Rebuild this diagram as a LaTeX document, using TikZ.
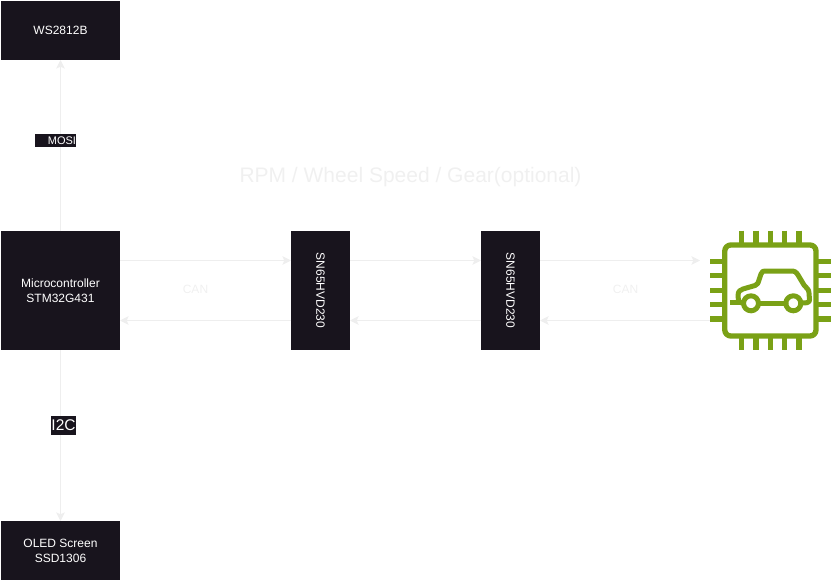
\documentclass[tikz,border=0pt]{standalone}
\usepackage{fontspec}
\setmainfont{Liberation Sans}
\usetikzlibrary{arrows.meta,positioning}
\definecolor{boxdark}{HTML}{18141D}
\definecolor{linelight}{HTML}{EEEEEE}
\definecolor{labellight}{HTML}{F0F0F0}
\definecolor{chipgreen}{HTML}{7AA116}
\tikzset{
  x=0.75pt,y=-0.75pt,
  darkbox/.style={fill=boxdark,draw=none,text=white,font=\fontsize{9}{11.25}\selectfont,align=center,inner sep=0pt,outer sep=0pt,minimum width=89.25pt,minimum height=44.25pt},
  tallbox/.style={darkbox,minimum height=89.25pt},
  vertbox/.style={darkbox,rotate=-90},
  conn/.style={draw=linelight,line width=0.75pt,-{Stealth[length=6.5pt,width=6.5pt,inset=1.5pt]}},
  paleText/.style={text=labellight,font=\fontsize{9}{11}\selectfont,inner sep=0pt},
  tag/.style={fill=boxdark,text=white,inner sep=0pt,outer sep=0pt},
  chipline/.style={draw=chipgreen,line width=4pt,line cap=butt,line join=round},
  carline/.style={draw=chipgreen,line width=3.75pt,line join=round,line cap=round},
}
\begin{document}
\begin{tikzpicture}
\useasboundingbox (0,0) rectangle (831,581);
\node[darkbox] (ws) at (60.5,30.5) {WS2812B};
\node[tallbox] (mcu) at (60.5,290.5) {Microcontroller\\STM32G431};
\node[darkbox] (oled) at (60.5,550.5) {OLED Screen\\SSD1306};
\node[vertbox] (tra) at (320.5,290.5) {SN65HVD230};
\node[vertbox] (trb) at (510.5,290.5) {SN65HVD230};
\node[inner sep=0pt,outer sep=0pt,minimum width=90.75pt,minimum height=90.75pt] (chip) at (770.5,290.5) {};
\draw[conn] (mcu.north) -- (ws.south);
\draw[conn] (mcu.south) -- (oled.north);
\node[tag,minimum width=30.75pt,minimum height=9.5pt,font=\fontsize{8.25}{9}\selectfont,align=right,text width=30.75pt] (mosi) at (55.5,140.3) {MOSI};
\node[tag,minimum width=18.75pt,minimum height=14pt,font=\fontsize{11.6}{12}\selectfont] (i2c) at (63.5,425.4) {I2C};
\draw[conn] ([yshift=22.5pt]mcu.east) -- ([yshift=22.5pt]tra.south);
\draw[conn] ([yshift=-22.5pt]tra.south) -- ([yshift=-22.5pt]mcu.east);
\draw[conn] ([yshift=22.5pt]tra.north) -- ([yshift=22.5pt]trb.south);
\draw[conn] ([yshift=-22.5pt]trb.south) -- ([yshift=-22.5pt]tra.north);
\draw[conn,shorten >=7.5pt] ([yshift=22.5pt]trb.north) -- ([yshift=22.5pt]chip.west);
\draw[conn] ([yshift=-22.5pt]chip.west) -- ([yshift=-22.5pt]trb.north);
\node[paleText] (cana) at (195.5,289.5) {CAN};
\node[paleText] (canb) at (625.5,289.5) {CAN};
\node[text=labellight,font=\fontsize{15.75}{16}\selectfont,inner sep=0pt] (title) at (410.5,177) {RPM / Wheel Speed / Gear(optional)};
% chip icon
\draw[chipline,rounded corners=4.5pt] (724.8,245) rectangle (816,336);
\foreach \p in {741.7,756,770.3,784.7,799}{
  \draw[chipline] (\p,230.7) -- (\p,243);
  \draw[chipline] (\p,338) -- (\p,350.2);
}
\foreach \p in {261.3,275.7,290.3,304.7,319}{
  \draw[chipline] (710,\p) -- (722.5,\p);
  \draw[chipline] (818,\p) -- (830.7,\p);
}
% car
\draw[carline] (751,303.3) circle (7.5);
\draw[carline] (793.3,303.3) circle (7.5);
\draw[carline,line cap=butt] (730,302.5) -- (740,302.5);
\draw[carline] (758.5,303) -- (786,303);
\draw[carline] (742.5,303) .. controls (738,303) and (738,299) .. (738,296)
  .. controls (738,291) and (740,290) .. (743,289)
  -- (755,285.5) .. controls (758,284.5) and (758,283) .. (759,280)
  -- (761,274) .. controls (762,271) and (763,271) .. (766,271)
  -- (791,271) .. controls (795,271) and (796,272) .. (798,275)
  -- (804,285) .. controls (806,288) and (809,289) .. (809,293)
  -- (809.5,300) .. controls (809.5,303) and (806,303) .. (801,303);
\end{tikzpicture}
\end{document}
